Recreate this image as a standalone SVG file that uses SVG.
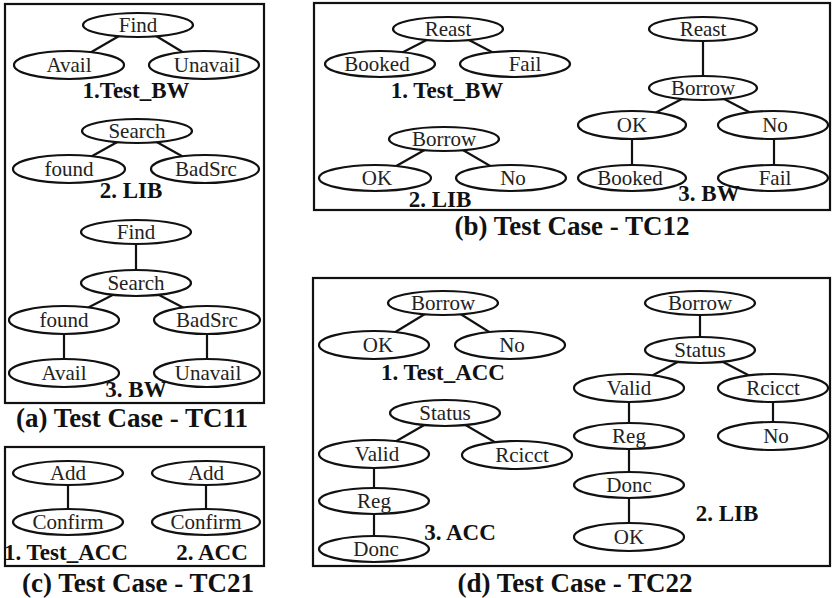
<svg xmlns="http://www.w3.org/2000/svg" width="832" height="598" viewBox="0 0 832 598">
  <style>
    .frame { fill: none; stroke: #111; stroke-width: 2.2; }
    .edge { stroke: #111; stroke-width: 2.2; fill: none; }
    .node ellipse { fill: #fff; stroke: #111; stroke-width: 2.2; }
    .node text { font-size: 21px; fill: #222; text-anchor: middle; }
    .lbl { font-size: 23px; font-weight: bold; fill: #111; text-anchor: middle; }
    .cap { font-size: 27px; font-weight: bold; fill: #111; text-anchor: middle; }
  </style>
  <rect width="832" height="598" fill="#fff"/>

  <!-- panel frames -->
  <g id="frames">
    <rect class="frame" x="5" y="4" width="259" height="399"/>
    <rect class="frame" x="5" y="447" width="259" height="119"/>
    <rect class="frame" x="314" y="3" width="516" height="207"/>
    <rect class="frame" x="313" y="278" width="517" height="288"/>
  </g>

  <!-- connectors (centre to centre, ellipses drawn on top) -->
  <g id="connectors">
    <!-- (a) -->
    <line class="edge" x1="138" y1="25" x2="69" y2="65"/>
    <line class="edge" x1="138" y1="25" x2="204" y2="65"/>
    <line class="edge" x1="137" y1="131" x2="69" y2="169"/>
    <line class="edge" x1="137" y1="131" x2="205" y2="169"/>
    <line class="edge" x1="136" y1="232" x2="136" y2="283"/>
    <line class="edge" x1="136" y1="283" x2="64" y2="320"/>
    <line class="edge" x1="136" y1="283" x2="207" y2="320"/>
    <line class="edge" x1="64" y1="320" x2="64" y2="373"/>
    <line class="edge" x1="207" y1="320" x2="207" y2="373"/>
    <!-- (c) -->
    <line class="edge" x1="68" y1="473" x2="68" y2="522"/>
    <line class="edge" x1="206" y1="473" x2="206" y2="522"/>
    <!-- (b) -->
    <line class="edge" x1="448" y1="29" x2="380" y2="64"/>
    <line class="edge" x1="448" y1="29" x2="515" y2="64"/>
    <line class="edge" x1="444" y1="139" x2="375" y2="178"/>
    <line class="edge" x1="444" y1="139" x2="511" y2="178"/>
    <line class="edge" x1="703" y1="29" x2="703" y2="88"/>
    <line class="edge" x1="703" y1="88" x2="632" y2="125"/>
    <line class="edge" x1="703" y1="88" x2="774" y2="125"/>
    <line class="edge" x1="632" y1="125" x2="632" y2="178"/>
    <line class="edge" x1="774" y1="125" x2="774" y2="178"/>
    <!-- (d) -->
    <line class="edge" x1="443" y1="303" x2="374" y2="345"/>
    <line class="edge" x1="443" y1="303" x2="510" y2="345"/>
    <line class="edge" x1="445" y1="413" x2="374" y2="454"/>
    <line class="edge" x1="445" y1="413" x2="517" y2="455"/>
    <line class="edge" x1="374" y1="454" x2="374" y2="549"/>
    <line class="edge" x1="700" y1="303" x2="700" y2="350"/>
    <line class="edge" x1="700" y1="350" x2="629" y2="388"/>
    <line class="edge" x1="700" y1="350" x2="773" y2="388"/>
    <line class="edge" x1="629" y1="388" x2="629" y2="537"/>
    <line class="edge" x1="773" y1="388" x2="773" y2="436"/>
  </g>

  <g font-family="Liberation Serif, Times New Roman, serif">
  <!-- (a) Test Case - TC11 -->
  <g id="a1-find" class="node"><ellipse cx="138" cy="25" rx="55" ry="12"/><text x="138" y="32">Find</text></g>
  <g id="a1-avail" class="node"><ellipse cx="69" cy="65" rx="55" ry="14"/><text x="69" y="72">Avail</text></g>
  <g id="a1-unavail" class="node"><ellipse cx="204" cy="65" rx="55" ry="14"/><text x="207" y="72">Unavail</text></g>
  <text class="lbl" x="136" y="98">1.Test_BW</text>

  <g id="a2-search" class="node"><ellipse cx="137" cy="131" rx="55" ry="12"/><text x="137" y="138">Search</text></g>
  <g id="a2-found" class="node"><ellipse cx="69" cy="169" rx="56" ry="14"/><text x="69" y="176">found</text></g>
  <g id="a2-badsrc" class="node"><ellipse cx="205" cy="169" rx="54" ry="14"/><text x="206" y="176">BadSrc</text></g>
  <text class="lbl" x="131" y="198">2. LIB</text>

  <g id="a3-find" class="node"><ellipse cx="136" cy="232" rx="55" ry="12"/><text x="136" y="239">Find</text></g>
  <g id="a3-search" class="node"><ellipse cx="136" cy="283" rx="55" ry="13"/><text x="136" y="290">Search</text></g>
  <g id="a3-found" class="node"><ellipse cx="64" cy="320" rx="55" ry="14"/><text x="64" y="327">found</text></g>
  <g id="a3-badsrc" class="node"><ellipse cx="207" cy="320" rx="53" ry="14"/><text x="207" y="327">BadSrc</text></g>
  <g id="a3-avail" class="node"><ellipse cx="64" cy="373" rx="55" ry="14"/><text x="64" y="380">Avail</text></g>
  <g id="a3-unavail" class="node"><ellipse cx="207" cy="373" rx="53" ry="14"/><text x="208" y="380">Unavail</text></g>
  <text class="lbl" x="136" y="397">3. BW</text>
  <text class="cap" x="132" y="427">(a) Test Case - TC11</text>

  <!-- (c) Test Case - TC21 -->
  <g id="c1-add" class="node"><ellipse cx="68" cy="473" rx="55" ry="12"/><text x="68" y="480">Add</text></g>
  <g id="c1-confirm" class="node"><ellipse cx="68" cy="522" rx="55" ry="13"/><text x="68" y="529">Confirm</text></g>
  <g id="c2-add" class="node"><ellipse cx="206" cy="473" rx="54" ry="12"/><text x="206" y="480">Add</text></g>
  <g id="c2-confirm" class="node"><ellipse cx="206" cy="522" rx="54" ry="13"/><text x="206" y="529">Confirm</text></g>
  <text class="lbl" x="66" y="560">1. Test_ACC</text>
  <text class="lbl" x="212" y="560">2. ACC</text>
  <text class="cap" x="138" y="592">(c) Test Case - TC21</text>

  <!-- (b) Test Case - TC12 -->
  <g id="b1-reast" class="node"><ellipse cx="448" cy="29" rx="55" ry="12"/><text x="448" y="36">Reast</text></g>
  <g id="b1-booked" class="node"><ellipse cx="380" cy="64" rx="55" ry="13"/><text x="377" y="71">Booked</text></g>
  <g id="b1-fail" class="node"><ellipse cx="515" cy="64" rx="55" ry="13"/><text x="525" y="71">Fail</text></g>
  <text class="lbl" x="447" y="98">1. Test_BW</text>

  <g id="b2-borrow" class="node"><ellipse cx="444" cy="139" rx="55" ry="12"/><text x="444" y="146">Borrow</text></g>
  <g id="b2-ok" class="node"><ellipse cx="375" cy="178" rx="56" ry="13"/><text x="377" y="185">OK</text></g>
  <g id="b2-no" class="node"><ellipse cx="511" cy="178" rx="55" ry="13"/><text x="513" y="185">No</text></g>
  <text class="lbl" x="440" y="207">2. LIB</text>

  <g id="b3-reast" class="node"><ellipse cx="703" cy="29" rx="54" ry="12"/><text x="703" y="36">Reast</text></g>
  <g id="b3-borrow" class="node"><ellipse cx="703" cy="88" rx="54" ry="12"/><text x="703" y="95">Borrow</text></g>
  <g id="b3-ok" class="node"><ellipse cx="632" cy="125" rx="54" ry="14"/><text x="632" y="132">OK</text></g>
  <g id="b3-no" class="node"><ellipse cx="773" cy="125" rx="55" ry="14"/><text x="775" y="132">No</text></g>
  <g id="b3-booked" class="node"><ellipse cx="632" cy="178" rx="54" ry="13"/><text x="630" y="185">Booked</text></g>
  <g id="b3-fail" class="node"><ellipse cx="773" cy="178" rx="55" ry="13"/><text x="775" y="185">Fail</text></g>
  <text class="lbl" x="709" y="201">3. BW</text>
  <text class="cap" x="572" y="235">(b) Test Case - TC12</text>

  <!-- (d) Test Case - TC22 -->
  <g id="d1-borrow" class="node"><ellipse cx="443" cy="303" rx="55" ry="12"/><text x="443" y="310">Borrow</text></g>
  <g id="d1-ok" class="node"><ellipse cx="374" cy="345" rx="55" ry="14"/><text x="378" y="352">OK</text></g>
  <g id="d1-no" class="node"><ellipse cx="510" cy="345" rx="55" ry="14"/><text x="512" y="352">No</text></g>
  <text class="lbl" x="443" y="380">1. Test_ACC</text>

  <g id="d3-status" class="node"><ellipse cx="445" cy="413" rx="55" ry="13"/><text x="445" y="420">Status</text></g>
  <g id="d3-valid" class="node"><ellipse cx="374" cy="454" rx="55" ry="14"/><text x="377" y="461">Valid</text></g>
  <g id="d3-rcicct" class="node"><ellipse cx="517" cy="455" rx="55" ry="14"/><text x="522" y="462">Rcicct</text></g>
  <g id="d3-reg" class="node"><ellipse cx="374" cy="501" rx="55" ry="13"/><text x="374" y="508">Reg</text></g>
  <g id="d3-donc" class="node"><ellipse cx="374" cy="549" rx="55" ry="13"/><text x="376" y="556">Donc</text></g>
  <text class="lbl" x="460" y="540">3. ACC</text>

  <g id="d2-borrow" class="node"><ellipse cx="700" cy="303" rx="55" ry="12"/><text x="700" y="310">Borrow</text></g>
  <g id="d2-status" class="node"><ellipse cx="700" cy="350" rx="55" ry="13"/><text x="700" y="357">Status</text></g>
  <g id="d2-valid" class="node"><ellipse cx="629" cy="388" rx="55" ry="14"/><text x="629" y="395">Valid</text></g>
  <g id="d2-rcicct" class="node"><ellipse cx="773" cy="388" rx="55" ry="14"/><text x="773" y="395">Rcicct</text></g>
  <g id="d2-reg" class="node"><ellipse cx="629" cy="436" rx="55" ry="13"/><text x="629" y="443">Reg</text></g>
  <g id="d2-no" class="node"><ellipse cx="773" cy="436" rx="55" ry="14"/><text x="776" y="443">No</text></g>
  <g id="d2-donc" class="node"><ellipse cx="629" cy="485" rx="55" ry="13"/><text x="629" y="492">Donc</text></g>
  <g id="d2-ok" class="node"><ellipse cx="629" cy="537" rx="55" ry="14"/><text x="629" y="544">OK</text></g>
  <text class="lbl" x="727" y="521">2. LIB</text>
  <text class="cap" x="575" y="592">(d) Test Case - TC22</text>
  </g>
</svg>
